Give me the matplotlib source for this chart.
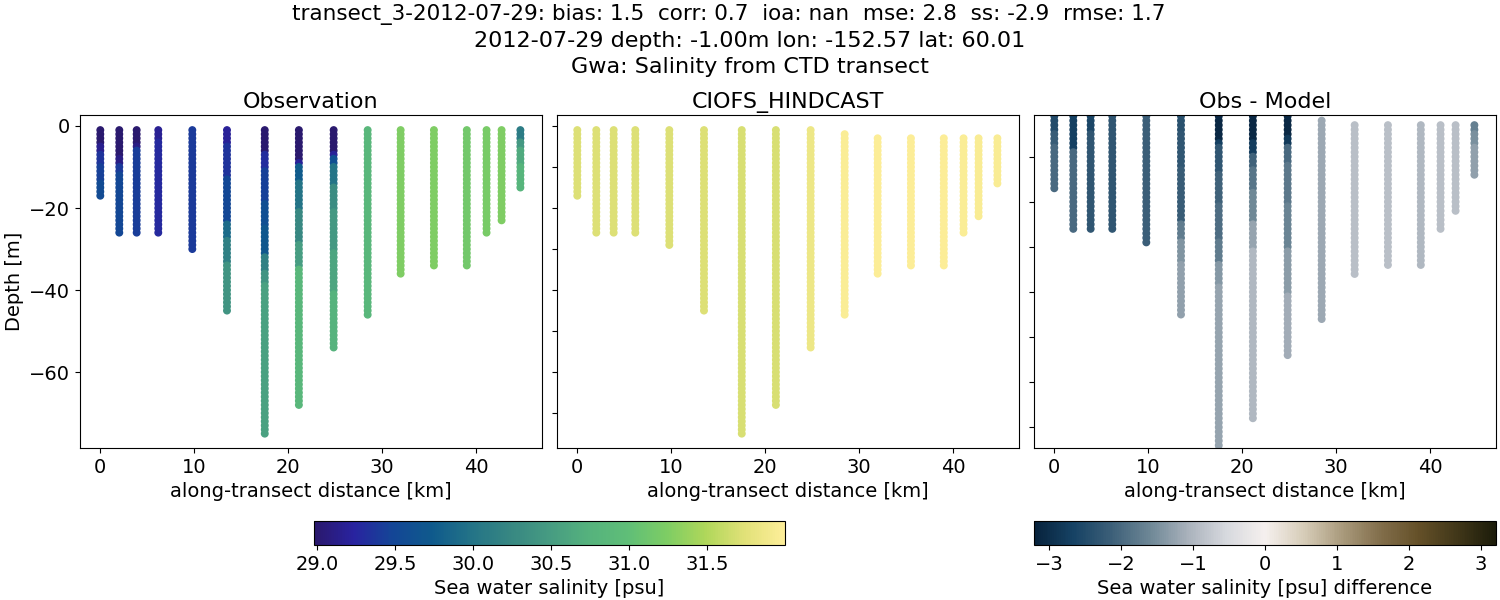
import matplotlib
matplotlib.use('Agg')
import matplotlib.pyplot as plt
import numpy as np
from matplotlib.colors import LinearSegmentedColormap

# cast positions along the transect [km]
distance = [0, 2.02, 3.87, 6.17, 9.79, 13.48, 17.5, 21.13, 24.83, 28.45, 31.96, 35.5, 39.0, 41.1, 42.7, 44.7]

# observation: top/bottom depth per cast, then salinity layers (value, number of 1 m samples)
obs_top = [-1] * 16
obs_bottom = [-17, -26, -26, -26, -30, -45, -75, -68, -54, -46, -36, -34, -34, -26, -23, -15]
obs_values = [
    [29.0, 29.15, 29.35, 29.45, 29.55],
    [29.0, 29.1, 29.4, 29.5],
    [29.0, 29.1, 29.42],
    [29.18, 29.28],
    [29.4],
    [29.2, 29.35, 29.5, 29.9, 30.15, 30.4],
    [29.0, 29.3, 29.45, 29.6, 29.7, 30.15, 30.4, 30.55],
    [29.0, 29.2, 29.75, 30.0, 30.25, 30.5, 30.85],
    [29.0, 29.2, 29.6, 30.0, 30.3, 30.45, 30.6, 30.75],
    [30.85],
    [31.25],
    [31.25],
    [31.15],
    [31.2],
    [31.25],
    [30.1, 30.45, 30.65, 30.8],
]
obs_counts = [
    [4, 2, 3, 4, 4],
    [7, 2, 2, 15],
    [4, 1, 21],
    [3, 23],
    [30],
    [4, 8, 11, 4, 6, 12],
    [6, 4, 8, 6, 7, 4, 3, 37],
    [8, 1, 4, 7, 8, 6, 34],
    [6, 1, 2, 5, 6, 10, 10, 14],
    [46],
    [36],
    [34],
    [34],
    [26],
    [23],
    [3, 2, 4, 6],
]

# model
model_top = [-1, -1, -1, -1, -1, -1, -1, -1, -1, -2, -3, -3, -3, -3, -3, -3]
model_bottom = [-17, -26, -26, -26, -29, -45, -75, -68, -54, -46, -36, -34, -34, -26, -22, -14]
model_values = [31.72, 31.72, 31.72, 31.72, 31.72, 31.72, 31.7, 31.7, 31.85, 31.97, 31.98, 31.98, 31.98, 31.97, 31.96, 31.95]

# obs - model, on the model depths
diff_values = [
    [-2.5, -2.2, -2.0],
    [-2.7, -2.0],
    [-2.6, -2.3],
    [-2.3],
    [-2.15],
    [-2.4, -2.3, -2.2, -1.75, -1.45, -1.3],
    [-3.1, -2.7, -2.3, -2.1, -1.95, -1.75, -1.4, -1.25],
    [-3.1, -2.75, -2.1, -1.85, -1.6, -1.25, -1.0],
    [-3.1, -2.8, -2.0, -1.8, -1.65, -1.35, -1.15],
    [-1.2],
    [-0.9],
    [-0.9],
    [-1.0],
    [-0.9],
    [-0.9],
    [-1.7, -1.5, -1.3],
]
diff_counts = [
    [4, 3, 10],
    [8, 18],
    [4, 22],
    [26],
    [29],
    [4, 8, 12, 4, 5, 12],
    [6, 1, 6, 7, 8, 5, 5, 37],
    [6, 3, 3, 5, 7, 6, 38],
    [5, 2, 4, 9, 10, 10, 14],
    [45],
    [34],
    [32],
    [32],
    [24],
    [20],
    [2, 3, 7],
]

title_line1 = 'transect_3-2012-07-29: bias: 1.5  corr: 0.7  ioa: nan  mse: 2.8  ss: -2.9  rmse: 1.7'
title_line2 = '2012-07-29 depth: -1.00m lon: -152.57 lat: 60.01'
title_line3 = 'Gwa: Salinity from CTD transect'

# colormaps sampled off the reference colorbars
haline_rgb = [
    (42, 24, 108), (41, 35, 160), (19, 70, 150), (15, 90, 140), (35, 115, 135),
    (55, 135, 130), (70, 155, 130), (85, 178, 125), (95, 190, 120), (125, 205, 100),
    (175, 215, 90), (225, 225, 120), (253, 238, 153)]
diff_rgb = [
    (7, 34, 60), (22, 66, 100), (60, 95, 120), (110, 135, 150), (170, 178, 188),
    (215, 217, 222), (245, 240, 238), (215, 205, 185), (170, 155, 125), (130, 110, 75),
    (100, 80, 40), (65, 55, 25), (28, 28, 10)]
haline = LinearSegmentedColormap.from_list('haline_like', [tuple(c / 255 for c in rgb) for rgb in haline_rgb])
diff_cmap = LinearSegmentedColormap.from_list('diff_like', [tuple(c / 255 for c in rgb) for rgb in diff_rgb])

SAL_MIN, SAL_MAX = 28.98, 31.996
DIFF_LIM = 3.21
W, H = 1500, 600


def cast_depths(top, bottom):
    return np.arange(top, bottom - 1, -1)


def draw_casts(ax, tops, bottoms, layers, cmap, vmin, vmax):
    sc = None
    for x, top, bottom, vals in zip(distance, tops, bottoms, layers):
        depth = cast_depths(top, bottom)
        sc = ax.scatter(np.full(len(depth), x), depth, c=vals, s=22, cmap=cmap, vmin=vmin, vmax=vmax)
    return sc


def box(left, top, right, bottom):
    # pixel box to figure fraction
    return [left / W, 1 - bottom / H, (right - left) / W, (bottom - top) / H]


plt.rcParams['font.size'] = 14

fig = plt.figure(figsize=(15, 6), dpi=100)
ax1 = fig.add_axes(box(80, 115, 542, 448))
ax2 = fig.add_axes(box(557, 115, 1019, 448))
ax3 = fig.add_axes(box(1034, 115, 1496, 448))

obs_layers = [np.repeat(v, n) for v, n in zip(obs_values, obs_counts)]
diff_layers = [np.repeat(v, n) for v, n in zip(diff_values, diff_counts)]
model_layers = [np.full(t - b + 1, v) for t, b, v in zip(model_top, model_bottom, model_values)]

sc1 = draw_casts(ax1, obs_top, obs_bottom, obs_layers, haline, SAL_MIN, SAL_MAX)
draw_casts(ax2, model_top, model_bottom, model_layers, haline, SAL_MIN, SAL_MAX)
sc3 = draw_casts(ax3, model_top, model_bottom, diff_layers, diff_cmap, -DIFF_LIM, DIFF_LIM)

for ax, name in zip([ax1, ax2, ax3], ['Observation', 'CIOFS_HINDCAST', 'Obs - Model']):
    ax.set_title(name, fontsize=16, pad=5)
    ax.set_xlabel('along-transect distance [km]', fontsize=14)
    ax.set_xlim(-2.16, 47.0)
    ax.set_xticks([0, 10, 20, 30, 40])

ax1.set_ylim(-78.5, 2.68)
ax1.set_yticks([0, -20, -40, -60])
ax1.set_ylabel('Depth [m]', fontsize=14)

ax2.set_ylim(-78.5, 2.68)
ax2.set_yticks(np.arange(0, -71, -10))
ax2.set_yticklabels([])

ax3.set_ylim(-74.6, -0.75)
ax3.set_yticks(np.arange(-10, -71, -10))
ax3.set_yticklabels([])

cax1 = fig.add_axes(box(314, 521, 784.5, 545))
cb1 = fig.colorbar(sc1, cax=cax1, orientation='horizontal')
cb1.set_label('Sea water salinity [psu]', fontsize=14)

cax2 = fig.add_axes(box(1034, 521, 1496, 545))
cb2 = fig.colorbar(sc3, cax=cax2, orientation='horizontal')
cb2.set_label('Sea water salinity [psu] difference', fontsize=14)

# first line runs a bit narrower and left of the other two in the original
fig.text(729 / W, 1 - 20 / H, title_line1, fontsize=15.5, ha='center', va='baseline')
fig.text(750 / W, 1 - 47 / H, title_line2, fontsize=16, ha='center', va='baseline')
fig.text(750 / W, 1 - 73 / H, title_line3, fontsize=16, ha='center', va='baseline')

fig.savefig('out.png', dpi=100)
